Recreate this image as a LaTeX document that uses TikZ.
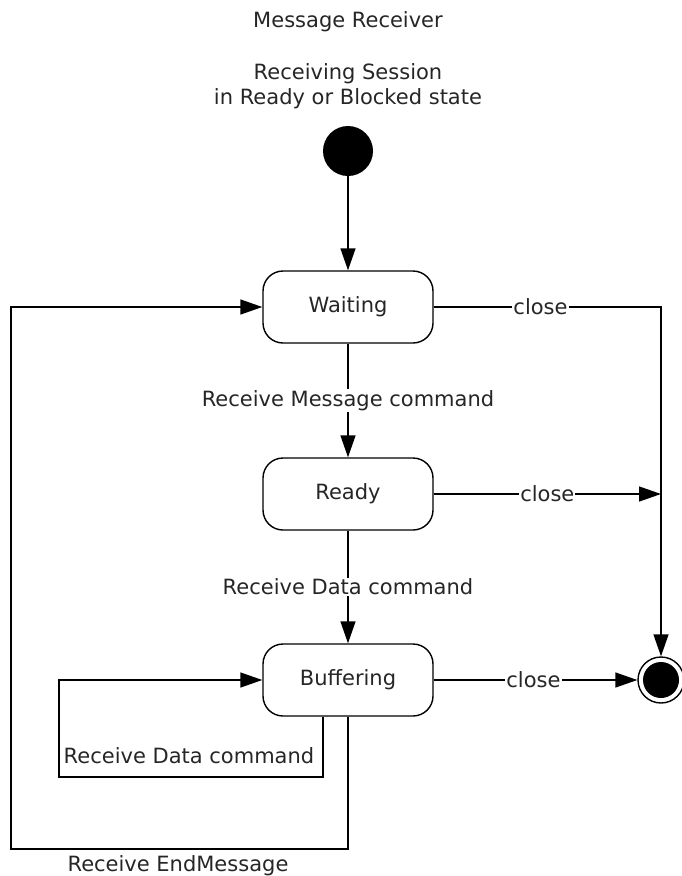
\documentclass[tikz,border=0pt]{standalone}
\usepackage{fontspec}
\setmainfont{DejaVu Sans}
\usetikzlibrary{arrows.meta}
\begin{document}
\begin{tikzpicture}[x=1pt,y=-1pt,
  txt/.style={font=\fontsize{21}{25}\selectfont, text=black!85},
  state/.style={draw, rounded corners=20pt, minimum width=170pt, minimum height=72pt, line width=1.4pt, inner sep=0pt, txt},
  lbl/.style={txt, inner sep=1pt},
  onl/.style={lbl, fill=white},
  ln/.style={line width=1.4pt},
  tr/.style={ln, -{Triangle[length=22pt,width=15pt]}}]
\useasboundingbox (0,0) rectangle (681,876);
% titles
\node[lbl] (title) at (348,22) {Message Receiver};
\node[lbl, align=center] (sess) at (348,86) {Receiving Session\\in Ready or Blocked state};
% states
\node[circle, fill=black, minimum size=50pt, inner sep=0pt] (init) at (348,151) {};
\node[state] (wait) at (348,307) {Waiting};
\node[state] (ready) at (348,494) {Ready};
\node[state] (buf) at (348,680) {Buffering};
\node[circle, draw, line width=1.4pt, minimum size=46pt, inner sep=0pt] (fin) at (661,680) {};
\fill (fin.center) circle[radius=18pt];
% coordinates
\coordinate (c1) at (661,307);
\coordinate (c2) at (661,494);
\coordinate (l1) at (59,777);
\coordinate (l2) at (11,849);
% transitions
\draw[tr] (init) -- (wait);
\draw[tr] (wait) -- node[onl]{Receive Message command} (ready);
\draw[tr] (ready) -- node[onl]{Receive Data command} (buf);
\draw[tr] (wait.east) -- node[onl, pos=0.47]{close} (c1) -- (fin);
\draw[tr] (ready.east) -- node[onl, pos=0.5]{close} (c2);
\draw[tr] (buf) -- node[onl, pos=0.49]{close} (fin);
\draw[tr] ([xshift=-25pt]buf.south) |- (l1) |- (buf.west);
\node[lbl] (selflbl) at (189,756) {Receive Data command};
\draw[tr] (buf.south) |- (l2) |- (wait.west);
\node[lbl] (endlbl) at (178,866) {Receive EndMessage};
\end{tikzpicture}
\end{document}
